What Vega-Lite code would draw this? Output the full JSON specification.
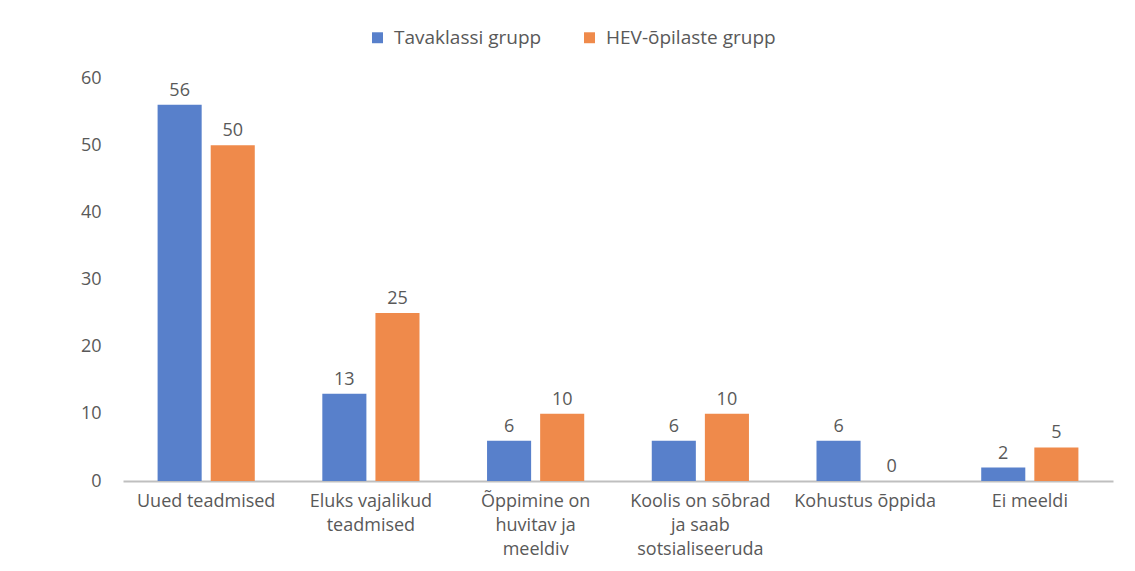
{
  "$schema": "https://vega.github.io/schema/vega-lite/v6.json",
  "autosize": "none",
  "width": 990,
  "height": 403,
  "padding": {"left": 123, "top": 78, "right": 22, "bottom": 90},
  "background": "white",
  "config": {
    "view": {"stroke": null},
    "font": "Open Sans",
    "axis": {"labelFont": "Open Sans", "labelColor": "#595959", "labelFontSize": 18, "grid": false, "ticks": false}
  },
  "data": {
    "values": [
      {"cat": "Uued teadmised", "group": "Tavaklassi grupp", "value": 56},
      {"cat": "Uued teadmised", "group": "HEV-õpilaste grupp", "value": 50},
      {"cat": "Eluks vajalikud teadmised", "group": "Tavaklassi grupp", "value": 13},
      {"cat": "Eluks vajalikud teadmised", "group": "HEV-õpilaste grupp", "value": 25},
      {"cat": "Õppimine on huvitav ja meeldiv", "group": "Tavaklassi grupp", "value": 6},
      {"cat": "Õppimine on huvitav ja meeldiv", "group": "HEV-õpilaste grupp", "value": 10},
      {"cat": "Koolis on sõbrad ja saab sotsialiseeruda", "group": "Tavaklassi grupp", "value": 6},
      {"cat": "Koolis on sõbrad ja saab sotsialiseeruda", "group": "HEV-õpilaste grupp", "value": 10},
      {"cat": "Kohustus õppida", "group": "Tavaklassi grupp", "value": 6},
      {"cat": "Kohustus õppida", "group": "HEV-õpilaste grupp", "value": 0},
      {"cat": "Ei meeldi", "group": "Tavaklassi grupp", "value": 2},
      {"cat": "Ei meeldi", "group": "HEV-õpilaste grupp", "value": 5}
    ]
  },
  "encoding": {
    "x": {
      "field": "cat", "type": "nominal", "sort": null, "title": null,
      "scale": {"paddingInner": 0.41, "paddingOuter": 0.21},
      "axis": {
        "labelAngle": 0, "labelPadding": 11, "labelLineHeight": 24, "labelBaseline": "top", "labelLimit": 200,
        "domainColor": "#BFBFBF", "domainWidth": 2,
        "labelExpr": "datum.value == 'Eluks vajalikud teadmised' ? ['Eluks vajalikud', 'teadmised'] : datum.value == 'Õppimine on huvitav ja meeldiv' ? ['Õppimine on', 'huvitav ja', 'meeldiv'] : datum.value == 'Koolis on sõbrad ja saab sotsialiseeruda' ? ['Koolis on sõbrad', 'ja saab', 'sotsialiseeruda'] : datum.value"
      }
    },
    "xOffset": {"field": "group", "type": "nominal", "sort": ["Tavaklassi grupp", "HEV-õpilaste grupp"], "scale": {"paddingInner": 0.17}},
    "y": {
      "field": "value", "type": "quantitative", "title": null,
      "scale": {"domain": [0, 60], "nice": false},
      "axis": {"values": [0, 10, 20, 30, 40, 50, 60], "domain": false, "labelPadding": 22}
    }
  },
  "layer": [
    {
      "mark": {"type": "bar"},
      "encoding": {
        "color": {
          "field": "group", "type": "nominal",
          "sort": ["Tavaklassi grupp", "HEV-õpilaste grupp"],
          "scale": {"domain": ["Tavaklassi grupp", "HEV-õpilaste grupp"], "range": ["#5880CB", "#EF8A4B"]},
          "legend": {
            "title": null, "orient": "none", "direction": "horizontal",
            "legendX": 245, "legendY": -50,
            "symbolType": "square", "symbolSize": 120, "symbolStrokeWidth": 0,
            "labelFont": "Open Sans", "labelFontSize": 19, "labelColor": "#595959", "labelLimit": 300,
            "columnPadding": 38, "labelOffset": 7
          }
        }
      }
    },
    {
      "mark": {"type": "text", "dy": -14, "font": "Open Sans", "fontSize": 18, "color": "#595959"},
      "encoding": {"text": {"field": "value", "type": "quantitative"}}
    }
  ]
}
